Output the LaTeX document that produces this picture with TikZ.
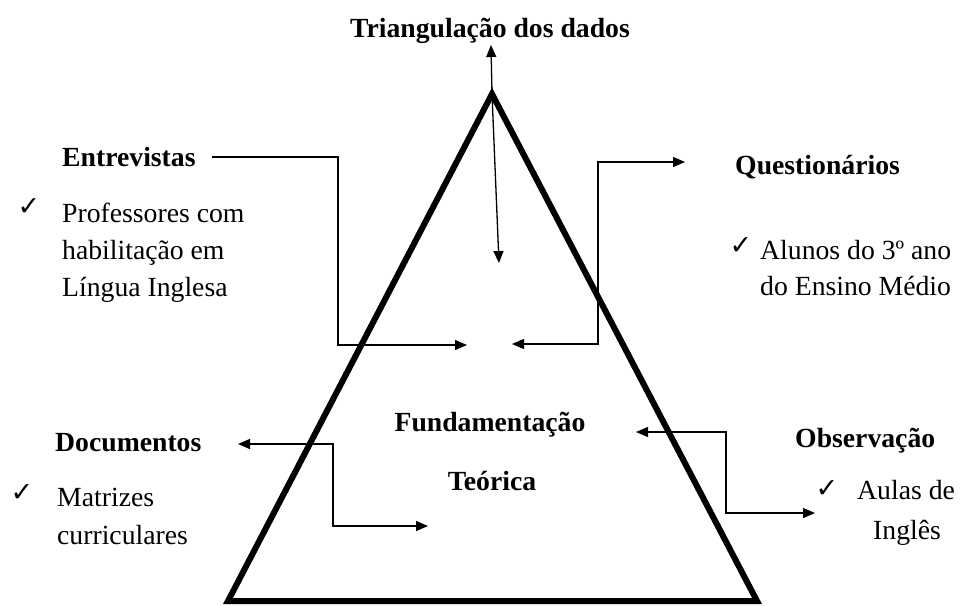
\documentclass[tikz,border=0pt]{standalone}
\usepackage{fontspec}
\setmainfont{Liberation Serif}
\newfontfamily\chkfont{DejaVu Sans}
\usetikzlibrary{arrows.meta}
\tikzset{
  txt/.style={inner sep=0pt, font=\fontsize{27.7}{36}\selectfont},
  btxt/.style={txt, font=\fontsize{27.7}{36}\selectfont\bfseries},
  chk/.style={inner sep=0pt, font=\chkfont\fontsize{27}{30}\selectfont},
  conn/.style={line width=1.3pt, -{Triangle[length=12pt,width=10pt]}},
  conn2/.style={line width=1.3pt, {Triangle[length=12pt,width=10pt]}-{Triangle[length=12pt,width=10pt]}},
  tri/.style={line width=6pt, line join=miter}
}
\begin{document}
\begin{tikzpicture}[x=1pt,y=-1pt]
\useasboundingbox (0,0) rectangle (960,605);
% triangle
\coordinate (apex) at (492,94);
\coordinate (bl) at (228,601);
\coordinate (br) at (757,601);
\draw[tri] (apex) -- (bl) -- (br) -- cycle;
% title
\node[btxt, anchor=base] (title) at (490,37) {Triangulação dos dados};
\coordinate (titlept) at (491,45);
\coordinate (downpt) at (499,263);
\draw[conn] (apex) -- (titlept);
\draw[conn] (apex) -- (downpt);
% centre
\node[btxt, anchor=base] (fund) at (490,431) {Fundamentação};
\node[btxt, anchor=base] (teo) at (492,490) {Teórica};
% Entrevistas
\node[btxt, anchor=base west] (ent) at (62,166) {Entrevistas};
\node[chk] (c1) at (29,207) {✓};
\node[txt, anchor=base west] (e1) at (62,222) {Professores com};
\node[txt, anchor=base west] (e2) at (62,259) {habilitação em};
\node[txt, anchor=base west] (e3) at (62,296) {Língua Inglesa};
\coordinate (ea) at (212,157);
\coordinate (eb) at (467,345);
\draw[conn] (ea) -- (338,157) -- (338,345) -- (eb);
% Questionarios
\node[btxt, anchor=base west] (que) at (735,174) {Questionários};
\node[chk] (c2) at (741,246) {✓};
\node[txt, anchor=base west] (q1) at (760,259) {Alunos do 3º ano};
\node[txt, anchor=base west] (q2) at (760,295) {do Ensino Médio};
\coordinate (qa) at (512,344);
\coordinate (qb) at (685,162);
\draw[conn2] (qa) -- (598,344) -- (598,162) -- (qb);
% Documentos
\node[btxt, anchor=base west] (doc) at (55,451) {Documentos};
\node[chk] (c3) at (22,493) {✓};
\node[txt, anchor=base west] (d1) at (57,506) {Matrizes};
\node[txt, anchor=base west] (d2) at (57,544) {curriculares};
\coordinate (da) at (238,444);
\coordinate (db) at (428,526);
\draw[conn2] (da) -- (333,444) -- (333,526) -- (db);
% Observacao
\node[btxt, anchor=base west] (obs) at (795,447) {Observação};
\node[chk] (c4) at (827,489) {✓};
\node[txt, anchor=base west] (o1) at (857,499) {Aulas de};
\node[txt, anchor=base west] (o2) at (873,539) {Inglês};
\coordinate (oa) at (636,432);
\coordinate (ob) at (815,513);
\draw[conn2] (oa) -- (726,432) -- (726,513) -- (ob);
\end{tikzpicture}
\end{document}
